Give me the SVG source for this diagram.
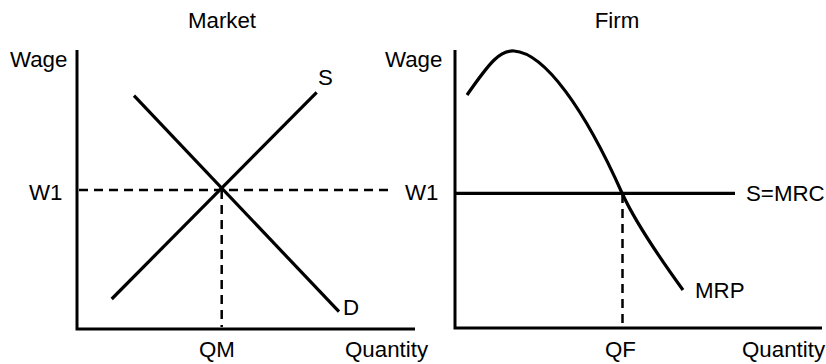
<svg xmlns="http://www.w3.org/2000/svg" width="826" height="364" viewBox="0 0 826 364">
<style>
text{font-family:"Liberation Sans",Arial,sans-serif;font-size:22.3px;fill:#000}
.axis{stroke:#000;stroke-width:3;fill:none}
.curve{stroke:#000;stroke-width:3.2;fill:none}
.dash{stroke:#000;stroke-width:2.5;fill:none;stroke-dasharray:9 6}
</style>
<rect width="826" height="364" fill="#fff"/>
<g id="market">
<text x="222" y="28" text-anchor="middle">Market</text>
<text x="10" y="67">Wage</text>
<text x="29" y="200">W1</text>
<text x="199" y="357">QM</text>
<text x="345" y="357">Quantity</text>
<path class="axis" d="M77,50 L77,329 L415,329"/>
</g>
<g id="firm">
<text x="617" y="28" text-anchor="middle">Firm</text>
<text x="385" y="67">Wage</text>
<text x="405" y="200">W1</text>
<text x="605" y="357">QF</text>
<text x="742" y="357">Quantity</text>
<path class="axis" d="M455,50 L455,328 L822,328"/>
</g>
<g id="connectors">
<line class="dash" x1="79" y1="190" x2="392" y2="190"/>
<line class="dash" x1="221.7" y1="190" x2="221.7" y2="327"/>
<line class="curve" x1="111.7" y1="299" x2="316.7" y2="92.3"/>
<line class="curve" x1="134" y1="95.7" x2="339" y2="311.7"/>
<line class="dash" x1="622.5" y1="194" x2="622.5" y2="327"/>
<line class="curve" x1="456" y1="193.3" x2="735" y2="193.3"/>
<path class="curve" d="M467,95 C490,62 500,50 514,51 C545,53 585,110 622,193 Q638,228 683,290"/>
</g>
<g id="labels">
<text x="318" y="85">S</text>
<text x="343" y="315">D</text>
<text x="746" y="201">S=MRC</text>
<text x="695" y="298">MRP</text>
</g>
</svg>
